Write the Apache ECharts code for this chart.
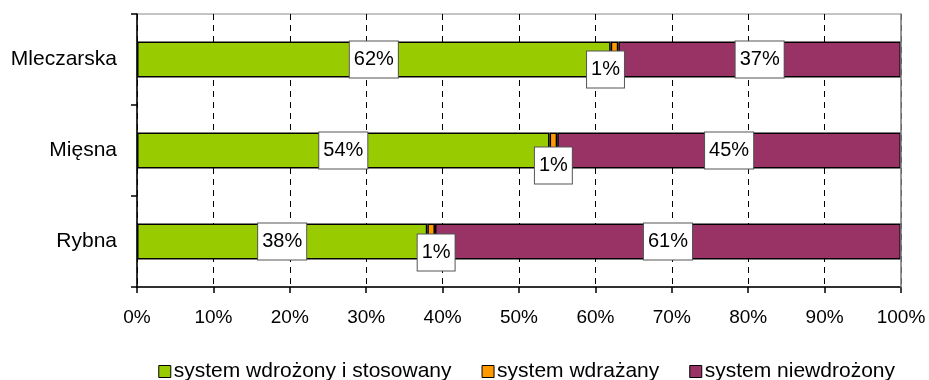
<!DOCTYPE html>
<html>
<head>
<meta charset="utf-8">
<style>
  html, body { margin: 0; padding: 0; background: #fff; }
  #chart { width: 929px; height: 380px; }
</style>
<script src="https://cdn.jsdelivr.net/npm/echarts@6/dist/echarts.min.js"></script>
</head>
<body>
<div id="chart"></div>
<script>
// Branże (od góry do dołu)
const categories = ['Mleczarska', 'Mięsna', 'Rybna'];
// Udział zakładów wg stanu wdrożenia systemu, %
const wdrozonyStosowany = [62, 54, 38];
const wdrazany = [1, 1, 1];
const niewdrozony = [37, 45, 61];
const seriesNames = ['system wdrożony i stosowany', 'system wdrażany', 'system niewdrożony'];
const xTicks = [0, 10, 20, 30, 40, 50, 60, 70, 80, 90, 100];

// przesunięcia etykiet małego segmentu (px), żeby nie zasłaniały sąsiednich
const smallLabelShift = [[-9, 10], [0, 15], [5, 11]];

const FONT = 'Liberation Sans, Arial, sans-serif';

const boxLabel = {
  show: true,
  position: 'inside',
  formatter: '{c}%',
  color: '#000',
  fontFamily: FONT,
  fontSize: 20,
  lineHeight: 22,
  backgroundColor: '#fff',
  borderColor: '#555',
  borderWidth: 1,
  padding: [7, 4, 7, 4]
};

function makeSeries(name, values, color, labelFn) {
  return {
    name: name,
    type: 'bar',
    stack: 'total',
    barWidth: 36,
    itemStyle: { color: color, borderColor: '#000', borderWidth: 1.5 },
    label: boxLabel,
    data: values.map((v, i) => labelFn ? { value: v, label: labelFn(i) } : v)
  };
}

const chart = echarts.init(document.getElementById('chart'), null, { renderer: 'canvas' });
chart.setOption({
  animation: false,
  backgroundColor: '#fff',
  grid: {
    left: 137, right: 28, top: 14, bottom: 93,
    show: true, borderColor: '#888', borderWidth: 1, backgroundColor: 'transparent'
  },
  legend: {
    top: 356,
    right: 29,
    itemWidth: 12,
    itemHeight: 12,
    itemGap: 30,
    icon: 'rect',
    itemStyle: { borderColor: '#000', borderWidth: 1 },
    textStyle: { fontFamily: FONT, fontSize: 21, color: '#000', padding: [0, 0, 0, -2] },
    data: seriesNames
  },
  xAxis: {
    type: 'value',
    min: xTicks[0],
    max: xTicks[xTicks.length - 1],
    interval: xTicks[1] - xTicks[0],
    axisLine: { show: true, lineStyle: { color: '#000', width: 1.5 } },
    axisTick: { show: true, length: 6, lineStyle: { color: '#000', width: 1.5 } },
    axisLabel: { formatter: '{value}%', fontFamily: FONT, fontSize: 19, color: '#000', margin: 21 },
    splitLine: { show: true, lineStyle: { color: '#000', width: 1, type: [6, 5] } }
  },
  yAxis: [{
    type: 'category',
    data: categories,
    inverse: true,
    axisLine: { show: true, lineStyle: { color: '#000', width: 1.5 } },
    axisTick: { show: true, length: 6, lineStyle: { color: '#000', width: 1.5 } },
    axisLabel: { fontFamily: FONT, fontSize: 21, color: '#000', margin: 20 }
  }, {
    type: 'category',
    data: categories,
    inverse: true,
    position: 'right',
    z: 5,
    axisLine: { show: true, lineStyle: { color: '#888', width: 1.5 } },
    axisTick: { show: false },
    axisLabel: { show: false }
  }],
  series: [
    makeSeries(seriesNames[0], wdrozonyStosowany, '#99CC00'),
    makeSeries(seriesNames[1], wdrazany, '#FF9900', i => ({
      offset: [smallLabelShift[i][0], smallLabelShift[i][1]]
    })),
    makeSeries(seriesNames[2], niewdrozony, '#993366')
  ]
});
</script>
</body>
</html>
